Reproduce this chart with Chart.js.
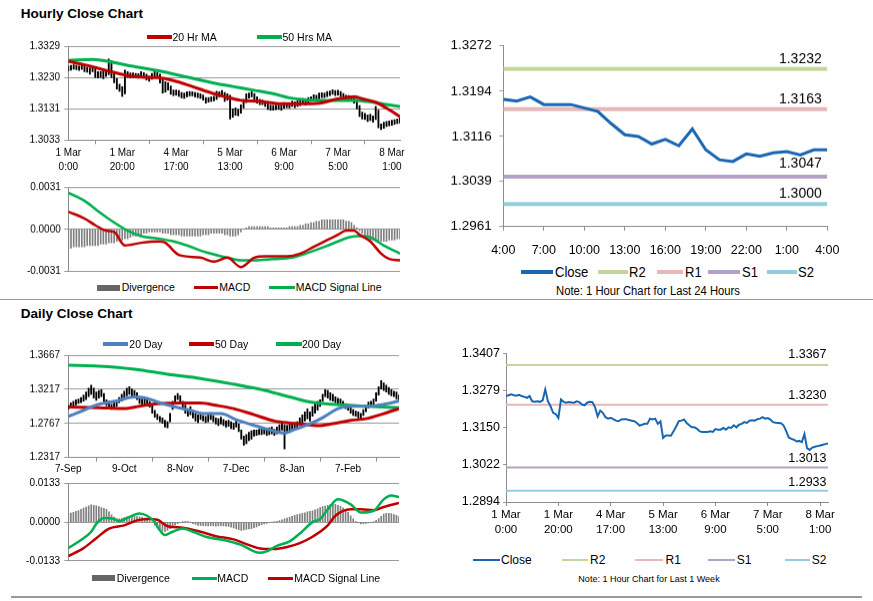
<!DOCTYPE html>
<html><head><meta charset="utf-8">
<script src="https://cdn.jsdelivr.net/npm/chart.js"></script>
<style>
html,body{margin:0;padding:0;background:#fff;}
body{width:873px;height:601px;position:relative;overflow:hidden;font-family:'Liberation Sans',Arial,sans-serif;}
.box{position:absolute;}
.t{position:absolute;white-space:nowrap;color:#000;}
.m{position:absolute;}
.hr{position:absolute;background:#9a9a9a;}
</style></head><body>
<script>
// ---------------- DATA ----------------
const hourTickIdx = [0,20,40,60,80,100,120];
const hourTickLabels = [['1 Mar','0:00'],['1 Mar','20:00'],['4 Mar','17:00'],['5 Mar','13:00'],['6 Mar','9:00'],['7 Mar','5:00'],['8 Mar','1:00']];

const weekClose = [1.3260,1.3263,1.3266,1.3263,1.3261,1.3264,1.3260,1.3257,1.3254,1.3260,
1.3242,1.3240,1.3242,1.3240,1.3245,1.3283,1.3242,1.3225,1.3202,1.3198,
1.3184,1.3248,1.3240,1.3237,1.3239,1.3238,1.3237,1.3242,1.3239,1.3231,
1.3228,1.3237,1.3240,1.3239,1.3222,1.3190,1.3210,1.3202,1.3187,1.3182,
1.3185,1.3180,1.3175,1.3173,1.3179,1.3180,1.3180,1.3177,1.3175,1.3173,
1.3167,1.3158,1.3161,1.3164,1.3164,1.3182,1.3179,1.3182,1.3164,1.3173,
1.3115,1.3124,1.3124,1.3123,1.3138,1.3155,1.3173,1.3175,1.3179,1.3167,
1.3159,1.3152,1.3152,1.3147,1.3138,1.3136,1.3136,1.3136,1.3138,1.3136,
1.3146,1.3144,1.3144,1.3150,1.3144,1.3152,1.3150,1.3159,1.3152,1.3161,
1.3164,1.3170,1.3167,1.3175,1.3176,1.3175,1.3180,1.3182,1.3187,1.3182,
1.3184,1.3179,1.3170,1.3168,1.3167,1.3166,1.3159,1.3140,1.3117,1.3112,
1.3109,1.3103,1.3105,1.3101,1.3129,1.3080,1.3074,1.3082,1.3085,1.3087,
1.3089,1.3092,1.3094,1.3096];

const hourLow = [1.3252,1.3255,1.3258,1.3256,1.3254,1.3257,1.3250,1.3248,1.3242,1.3250,
1.3232,1.3230,1.3232,1.3228,1.3235,1.3240,1.3232,1.3215,1.3195,1.3188,
1.3172,1.3180,1.3232,1.3230,1.3231,1.3230,1.3229,1.3234,1.3230,1.3224,
1.3220,1.3226,1.3232,1.3230,1.3214,1.3182,1.3185,1.3192,1.3178,1.3174,
1.3176,1.3172,1.3167,1.3165,1.3170,1.3173,1.3173,1.3170,1.3168,1.3165,
1.3160,1.3150,1.3153,1.3156,1.3157,1.3162,1.3170,1.3172,1.3156,1.3160,
1.3100,1.3105,1.3112,1.3110,1.3118,1.3135,1.3152,1.3166,1.3170,1.3160,
1.3150,1.3145,1.3145,1.3140,1.3130,1.3128,1.3128,1.3129,1.3130,1.3128,
1.3134,1.3136,1.3135,1.3140,1.3136,1.3140,1.3142,1.3147,1.3144,1.3150,
1.3156,1.3160,1.3160,1.3164,1.3168,1.3168,1.3171,1.3174,1.3178,1.3174,
1.3176,1.3171,1.3162,1.3160,1.3159,1.3158,1.3150,1.3132,1.3108,1.3100,
1.3098,1.3092,1.3095,1.3090,1.3098,1.3072,1.3066,1.3070,1.3076,1.3078,
1.3080,1.3083,1.3085,1.3087];

const hourHigh = [1.3268,1.3270,1.3272,1.3270,1.3268,1.3270,1.3267,1.3264,1.3262,1.3266,
1.3262,1.3250,1.3250,1.3250,1.3256,1.3290,1.3285,1.3245,1.3228,1.3210,
1.3202,1.3255,1.3250,1.3246,1.3246,1.3245,1.3244,1.3250,1.3247,1.3242,
1.3236,1.3245,1.3250,1.3248,1.3242,1.3225,1.3218,1.3215,1.3205,1.3192,
1.3192,1.3190,1.3184,1.3182,1.3186,1.3187,1.3186,1.3184,1.3182,1.3180,
1.3176,1.3168,1.3168,1.3170,1.3172,1.3188,1.3186,1.3190,1.3184,1.3180,
1.3175,1.3132,1.3135,1.3130,1.3145,1.3162,1.3180,1.3182,1.3186,1.3181,
1.3170,1.3162,1.3160,1.3156,1.3150,1.3144,1.3143,1.3144,1.3145,1.3144,
1.3152,1.3151,1.3150,1.3157,1.3154,1.3158,1.3158,1.3165,1.3162,1.3168,
1.3170,1.3177,1.3175,1.3182,1.3183,1.3182,1.3187,1.3189,1.3193,1.3190,
1.3191,1.3187,1.3181,1.3175,1.3174,1.3173,1.3168,1.3162,1.3142,1.3122,
1.3118,1.3113,1.3115,1.3110,1.3140,1.3128,1.3084,1.3090,1.3092,1.3094,
1.3096,1.3098,1.3100,1.3103];

const ma20Hr = [[0,1.3283],[7,1.3270],[14,1.3254],[22,1.3238],[27,1.3233],[33,1.3231],[39,1.3222],[46,1.3203],[54,1.3180],[59,1.3169],[64,1.3159],[71,1.3156],[79,1.3148],[86,1.3148],[93,1.3150],[100,1.3164],[106,1.3171],[109,1.3164],[114,1.3153],[119,1.3129],[123,1.3107]];
const ma50Hr = [[0,1.3286],[9,1.3289],[16,1.3281],[24,1.3267],[34,1.3252],[44,1.3233],[54,1.3214],[61,1.3203],[69,1.3191],[76,1.3180],[82,1.3167],[88,1.3161],[96,1.3159],[106,1.3159],[113,1.3153],[118,1.3146],[123,1.3139]];

const hourMacd = [[0,0.0013],[6,0.0008],[10,0.0003],[14,-0.0001],[17,-0.0002],[21,-0.0012],[27,-0.0010],[34,-0.0009],[36,-0.0010],[41,-0.0019],[49,-0.0021],[54,-0.0024],[59,-0.0021],[64,-0.0028],[69,-0.0021],[73,-0.0020],[81,-0.0020],[86,-0.0018],[91,-0.0013],[96,-0.0008],[100,-0.0004],[103,-0.0001],[106,-0.0001],[108,-0.0004],[112,-0.0009],[116,-0.0018],[119,-0.0022],[123,-0.0023]];
const hourSignal = [[0,0.0027],[6,0.0021],[12,0.0012],[17,0.0005],[22,-0.0001],[27,-0.0005],[34,-0.0007],[39,-0.0009],[44,-0.0012],[51,-0.0017],[59,-0.0021],[64,-0.0023],[69,-0.0023],[76,-0.0022],[83,-0.0021],[88,-0.0018],[95,-0.0013],[100,-0.0009],[104,-0.0006],[108,-0.0005],[112,-0.0006],[117,-0.0012],[123,-0.0018]];
const hourDiv = [-0.0014,-0.0014,-0.0013,-0.0013,-0.0013,-0.0013,-0.0013,-0.0012,-0.0012,-0.0012,
-0.0012,-0.0012,-0.0011,-0.0011,-0.0011,-0.0010,-0.0010,-0.0010,-0.0009,-0.0009,
-0.0008,-0.0007,-0.0007,-0.0006,-0.0005,-0.0005,-0.0004,-0.0004,-0.0003,-0.0003,
-0.0002,-0.0002,-0.0002,-0.0002,-0.0002,-0.0003,-0.0003,-0.0003,-0.0004,-0.0004,
-0.0004,-0.0004,-0.0005,-0.0005,-0.0005,-0.0005,-0.0005,-0.0005,-0.0005,-0.0005,
-0.0004,-0.0004,-0.0004,-0.0003,-0.0003,-0.0003,-0.0003,-0.0003,-0.0004,-0.0004,
-0.0005,-0.0005,-0.0005,-0.0004,-0.0002,0.0000,0.0001,0.0002,0.0002,0.0002,
0.0002,0.0002,0.0002,0.0002,0.0002,0.0001,0.0001,0.0001,0.0001,0.0001,
0.0001,0.0001,0.0002,0.0002,0.0002,0.0002,0.0003,0.0003,0.0004,0.0004,
0.0005,0.0005,0.0006,0.0006,0.0007,0.0007,0.0007,0.0007,0.0007,0.0007,
0.0007,0.0007,0.0007,0.0006,0.0006,0.0005,0.0003,0.0001,-0.0001,-0.0003,
-0.0005,-0.0006,-0.0008,-0.0008,-0.0009,-0.0009,-0.0009,-0.0009,-0.0009,-0.0008,
-0.0008,-0.0008,-0.0007,-0.0007];

const hourPriceTicks = [1.3033,1.3131,1.3230,1.3329];
const hourMacdTicks = [-0.0031,0,0.0031];

// 24 hour chart
const h24Idx = [0,3,6,9,12,15,18,21,24];
const h24Labels = ['4:00','7:00','10:00','13:00','16:00','19:00','22:00','1:00','4:00'];
const close24 = [1.3180,1.3177,1.3184,1.3171,1.3171,1.3171,1.3165,1.3159,1.3138,1.3119,1.3116,1.3103,1.3111,1.3100,1.3129,1.3093,1.3076,1.3073,1.3086,1.3082,1.3088,1.3090,1.3084,1.3093,1.3093];
const levels24 = [1.3232,1.3163,1.3047,1.3000];
const ticks24 = [1.2961,1.3039,1.3116,1.3194,1.3272];

// week chart
const levelsWeek = [1.3367,1.3230,1.3013,1.2933];
const ticksWeek = [1.2894,1.3022,1.3150,1.3279,1.3407];
const levelNames = ['R2','R1','S1','S2'];

// daily chart
const dayTickIdx = [0,22,44,66,88,110];
const dayTickLabels = ['7-Sep','9-Oct','8-Nov','7-Dec','8-Jan','7-Feb'];
const dayLow = [1.2950,1.2980,1.2990,1.3010,1.3030,1.3040,1.3060,1.3080,1.3120,1.3150,
1.3100,1.3070,1.3100,1.3120,1.3060,1.3000,1.2980,1.2950,1.2960,1.2990,
1.3040,1.3060,1.3100,1.3130,1.3150,1.3120,1.3100,1.3080,1.3030,1.3010,
1.3020,1.3000,1.2980,1.2900,1.2850,1.2820,1.2790,1.2770,1.2720,1.2710,
1.2790,1.2950,1.3050,1.3080,1.3050,1.2980,1.2900,1.2860,1.2880,1.2840,
1.2800,1.2780,1.2820,1.2800,1.2780,1.2790,1.2820,1.2790,1.2760,1.2740,
1.2760,1.2740,1.2720,1.2730,1.2700,1.2690,1.2720,1.2660,1.2560,1.2480,
1.2500,1.2540,1.2560,1.2600,1.2610,1.2620,1.2620,1.2630,1.2610,1.2620,
1.2630,1.2610,1.2630,1.2650,1.2680,1.2430,1.2650,1.2660,1.2670,1.2690,
1.2700,1.2740,1.2780,1.2800,1.2830,1.2800,1.2860,1.2900,1.2940,1.2990,
1.3060,1.3120,1.3100,1.3070,1.3060,1.3040,1.3020,1.3030,1.2980,1.2960,
1.2940,1.2900,1.2870,1.2860,1.2840,1.2830,1.2870,1.2920,1.2970,1.2980,
1.3010,1.3060,1.3140,1.3220,1.3200,1.3180,1.3150,1.3130,1.3120,1.3090,
1.3060];
const dayHigh = [1.3010,1.3040,1.3060,1.3080,1.3090,1.3110,1.3140,1.3180,1.3230,1.3270,
1.3230,1.3180,1.3200,1.3210,1.3160,1.3080,1.3060,1.3020,1.3040,1.3070,
1.3110,1.3150,1.3190,1.3230,1.3250,1.3220,1.3200,1.3170,1.3120,1.3090,
1.3100,1.3080,1.3060,1.3000,1.2940,1.2890,1.2860,1.2840,1.2810,1.2790,
1.2900,1.3060,1.3130,1.3160,1.3130,1.3060,1.3010,1.2960,1.2990,1.2940,
1.2900,1.2880,1.2900,1.2870,1.2860,1.2880,1.2910,1.2870,1.2840,1.2830,
1.2850,1.2820,1.2800,1.2810,1.2790,1.2770,1.2800,1.2760,1.2680,1.2600,
1.2620,1.2650,1.2670,1.2680,1.2680,1.2690,1.2700,1.2700,1.2690,1.2710,
1.2720,1.2690,1.2720,1.2750,1.2780,1.2750,1.2740,1.2750,1.2760,1.2780,
1.2790,1.2840,1.2880,1.2920,1.2960,1.2920,1.2990,1.3030,1.3060,1.3080,
1.3150,1.3210,1.3200,1.3170,1.3150,1.3120,1.3100,1.3090,1.3060,1.3030,
1.3010,1.2980,1.2950,1.2930,1.2920,1.2900,1.2950,1.3000,1.3050,1.3060,
1.3090,1.3170,1.3250,1.3330,1.3300,1.3270,1.3240,1.3210,1.3190,1.3180,
1.3140];
const ma20Day = [[0,1.2860],[6,1.2940],[12,1.3019],[19,1.3063],[26,1.3116],[30,1.3107],[35,1.3050],[41,1.2993],[48,1.2940],[53,1.2896],[60,1.2896],[66,1.2816],[73,1.2741],[79,1.2684],[85,1.2640],[88,1.2675],[95,1.2763],[100,1.2843],[106,1.2962],[111,1.2993],[117,1.2993],[124,1.3019],[130,1.3063]];
const ma50Day = [[0,1.2984],[12,1.2975],[22,1.2962],[28,1.2993],[35,1.3028],[44,1.3037],[52,1.3037],[58,1.3006],[65,1.2962],[73,1.2882],[81,1.2799],[87,1.2772],[93,1.2755],[98,1.2737],[104,1.2763],[111,1.2807],[117,1.2829],[124,1.2896],[130,1.2962]];
const ma200Day = [[0,1.3535],[12,1.3522],[26,1.3482],[39,1.3416],[52,1.3359],[65,1.3284],[78,1.3196],[87,1.3116],[95,1.3050],[104,1.3019],[117,1.2993],[130,1.2975]];
const dayMacd = [[0,-0.0089],[5,-0.0061],[9,-0.0033],[11,-0.0006],[14,0.0014],[18,0.0011],[20,0.0003],[23,0.0014],[28,0.0030],[31,0.0022],[34,0.0000],[36,-0.0028],[38,-0.0044],[41,-0.0033],[45,-0.0022],[49,-0.0033],[54,-0.0050],[62,-0.0063],[68,-0.0078],[73,-0.0100],[75,-0.0105],[78,-0.0100],[82,-0.0081],[87,-0.0066],[91,-0.0039],[96,0.0000],[99,0.0011],[103,0.0055],[106,0.0078],[111,0.0061],[115,0.0033],[120,0.0039],[124,0.0078],[127,0.0091],[130,0.0086]];
const daySignal = [[0,-0.0116],[6,-0.0089],[11,-0.0055],[16,-0.0022],[22,-0.0011],[27,0.0006],[31,0.0011],[35,0.0008],[39,-0.0014],[45,-0.0019],[52,-0.0033],[58,-0.0048],[65,-0.0059],[70,-0.0075],[75,-0.0089],[81,-0.0092],[86,-0.0085],[91,-0.0072],[96,-0.0050],[102,-0.0011],[105,0.0022],[111,0.0044],[115,0.0044],[120,0.0041],[124,0.0052],[130,0.0066]];
const dayDiv = [0.0028,0.0031,0.0034,0.0037,0.0040,0.0044,0.0048,0.0052,0.0056,0.0059,
0.0058,0.0056,0.0053,0.0050,0.0047,0.0044,0.0035,0.0025,0.0017,0.0012,
0.0011,0.0013,0.0016,0.0018,0.0019,0.0019,0.0020,0.0019,0.0018,0.0017,
0.0014,0.0009,0.0004,0.0000,-0.0010,-0.0020,-0.0028,-0.0031,-0.0033,-0.0028,
-0.0022,-0.0017,-0.0010,-0.0005,-0.0002,0.0001,0.0003,0.0002,0.0000,-0.0005,
-0.0008,-0.0011,-0.0012,-0.0012,-0.0013,-0.0013,-0.0012,-0.0013,-0.0014,-0.0013,
-0.0012,-0.0013,-0.0014,-0.0015,-0.0017,-0.0020,-0.0023,-0.0026,-0.0028,-0.0027,
-0.0025,-0.0023,-0.0022,-0.0019,-0.0016,-0.0012,-0.0009,-0.0006,-0.0004,-0.0002,
0.0000,0.0002,0.0003,0.0005,0.0008,0.0011,0.0014,0.0017,0.0020,0.0023,
0.0026,0.0028,0.0030,0.0032,0.0035,0.0037,0.0039,0.0042,0.0046,0.0050,
0.0053,0.0055,0.0058,0.0060,0.0061,0.0061,0.0058,0.0054,0.0049,0.0044,
0.0034,0.0022,0.0011,0.0003,-0.0003,-0.0006,-0.0005,-0.0004,-0.0003,-0.0001,
0.0002,0.0006,0.0012,0.0020,0.0028,0.0030,0.0030,0.0029,0.0026,0.0023,
0.0019];
const dayPriceTicks = [1.2317,1.2767,1.3217,1.3667];
const dayMacdTicks = [-0.0133,0,0.0133];

// ---------------- STYLE ----------------
const RED='#C00000', GREEN='#00B050', BLUE='#4F81BD', CLOSE='#1B66B1', DIVC='#7F7F7F';
const LEVEL_COLORS=['#C3D69B','#E6B9B8','#B3A2C7','#93CDDD'];
const FONT="'Liberation Sans', Arial, sans-serif";
Chart.defaults.color='#000';
Chart.defaults.font.family=FONT;

function box(left, top, width, height){
  const d=document.createElement('div'); d.className='box';
  Object.assign(d.style,{left:left+'px',top:top+'px',width:width+'px',height:height+'px'});
  const c=document.createElement('canvas'); d.appendChild(c); document.body.appendChild(d); return c;
}
function yScale(o){
  return { type:'linear', position:'left', min:o.ticks[0], max:o.ticks[o.ticks.length-1],
    afterBuildTicks:s=>{ s.ticks=o.ticks.map(v=>({value:v})); },
    afterFit:s=>{ s.width=o.width; },
    ticks:{autoSkip:false, padding:o.pad, font:{family:FONT,size:o.size}, color:'#000',
      callback:v=>Number(v).toFixed(4)},
    grid:{drawOnChartArea:!!o.grid, drawTicks:true, tickLength:o.tl, color:'#9A9A9A', lineWidth:1},
    border:{display:true, color:'#8C8C8C', width:1} };
}
function xScale(o){
  return { type:'linear', position:'bottom', min:0, max:o.n-1, offset:false, display:o.display!==false,
    afterBuildTicks:s=>{ s.ticks=(o.idx||[]).map(v=>({value:v})); },
    afterFit:s=>{ s.height=o.height||0; },
    ticks:{autoSkip:false, maxRotation:0, minRotation:0, padding:o.pad||0,
      font:{family:FONT,size:o.size||10,lineHeight:o.lh||1.2}, color:'#000',
      callback:(v,i)=>o.labels[i]},
    grid:{drawOnChartArea:false, drawTicks:true, tickLength:o.tl||4, color:'#8C8C8C'},
    border:{display:true, color:'#8C8C8C', width:1} };
}
function pts(pairs){ return pairs.map(p=>({x:p[0],y:p[1]})); }
function lineDs(data,color,w){ return {type:'line', data, borderColor:color, backgroundColor:color, borderWidth:w, pointRadius:0, cubicInterpolationMode:'monotone', fill:false, order:1}; }
function rangeBars(lo,hi){ return {type:'bar', data:lo.map((l,i)=>({x:i,y:[l,hi[i]]})), backgroundColor:'#000', barThickness:1.2, order:5}; }
function divBars(vals){ return {type:'bar', data:vals.map((v,i)=>({x:i,y:v})), backgroundColor:DIVC, barThickness:1, order:5}; }
function levelDs(levels,n,w){ return levels.map((lv,k)=>({type:'line', data:[{x:0,y:lv},{x:n-1,y:lv}], borderColor:LEVEL_COLORS[k], borderWidth:w, pointRadius:0, order:3})); }

const levelLabelPlugin = { id:'lvl',
  afterDatasetsDraw(chart, args, opts){
    if(!opts || !opts.values) return;
    const {ctx, chartArea} = chart; const ys = chart.scales.y;
    ctx.save(); ctx.font = opts.font; ctx.fillStyle='#000'; ctx.textAlign='right'; ctx.textBaseline='middle';
    opts.values.forEach((v,i)=>{ ctx.fillText(v.toFixed(4), chartArea.right-opts.dx, ys.getPixelForValue(v)-opts.dy[i]); });
    ctx.restore();
  }};

function make(canvas, datasets, scales, padding, lvl){
  return new Chart(canvas, {
    type:'line',
    data:{datasets},
    options:{ responsive:true, maintainAspectRatio:false, animation:false, events:[],
      layout:{padding},
      plugins:{legend:{display:false}, tooltip:{enabled:false}, lvl: lvl||{}},
      scales },
    plugins:[levelLabelPlugin]
  });
}

// A: hourly price
make(box(0,36,410,137.7),
  [rangeBars(hourLow,hourHigh), lineDs(pts(ma20Hr),RED,3), lineDs(pts(ma50Hr),GREEN,3)],
  { x:xScale({n:weekClose.length, idx:hourTickIdx, labels:hourTickLabels, height:34.4, pad:2.4, size:10, lh:1.4}),
    y:yScale({ticks:hourPriceTicks, width:68.3, pad:4.3, size:10, tl:4, grid:true}) },
  {top:10.7,right:10,bottom:0,left:0});

// B: hourly MACD
make(box(0,177,410,102.7),
  [divBars(hourDiv), lineDs(pts(hourMacd),RED,2.5), lineDs(pts(hourSignal),GREEN,2.5)],
  { x:xScale({n:weekClose.length, display:false, labels:[]}),
    y:yScale({ticks:hourMacdTicks, width:68.3, pad:3.5, size:10, tl:4, grid:true}) },
  {top:10.3,right:10,bottom:8,left:0});

// C: last 24 hours
make(box(430,30,422.3,227.5),
  [...levelDs(levels24,close24.length,4), Object.assign(lineDs(close24.map((v,i)=>({x:i,y:v})),CLOSE,3),{cubicInterpolationMode:'default',tension:0})],
  { x:xScale({n:close24.length, idx:h24Idx, labels:h24Labels, height:31.8, pad:12.8, size:12.5, lh:1.2}),
    y:yScale({ticks:ticks24, width:73.3, pad:7.6, size:13.5, tl:4, grid:false}) },
  {top:11.7,right:20,bottom:0,left:0},
  {values:levels24, font:"14px 'Liberation Sans', Arial", dx:5.6, dy:[10,10,13,10]});

// D: daily price
make(box(0,344,409,130.7),
  [rangeBars(dayLow,dayHigh), lineDs(pts(ma20Day),BLUE,3), lineDs(pts(ma50Day),RED,3), lineDs(pts(ma200Day),GREEN,3)],
  { x:xScale({n:dayLow.length, idx:dayTickIdx, labels:dayTickLabels, height:18, pad:1.3, size:10, lh:1.2}),
    y:yScale({ticks:dayPriceTicks, width:68.3, pad:4.3, size:10, tl:4, grid:true}) },
  {top:11,right:10,bottom:0,left:0});

// E: daily MACD
make(box(0,473,409,98.3),
  [divBars(dayDiv), lineDs(pts(dayMacd),GREEN,2.5), lineDs(pts(daySignal),RED,2.5)],
  { x:xScale({n:dayLow.length, display:false, labels:[]}),
    y:yScale({ticks:dayMacdTicks, width:68.3, pad:4.3, size:10, tl:4, grid:true}) },
  {top:10.3,right:10,bottom:8,left:0});

// F: last week hourly
make(box(430,342.7,412,194),
  [...levelDs(levelsWeek,weekClose.length,2), Object.assign(lineDs(weekClose.map((v,i)=>({x:i,y:v})),CLOSE,2),{cubicInterpolationMode:'default',tension:0})],
  { x:xScale({n:weekClose.length, idx:hourTickIdx, labels:hourTickLabels, height:35, pad:2.1, size:11.5, lh:1.25}),
    y:yScale({ticks:ticksWeek, width:76, pad:3, size:12.5, tl:3, grid:false}) },
  {top:10,right:14,bottom:0,left:0},
  {values:levelsWeek, font:"12.5px 'Liberation Sans', Arial", dx:1.5, dy:[10.5,9.5,9.5,8]});

// ---------------- TEXT / LEGENDS ----------------
function text(str, left, cy, fs, opts){
  opts = opts||{};
  const t=document.createElement('div'); t.className='t'; t.textContent=str;
  Object.assign(t.style,{left:left+'px', top:(cy-fs/2)+'px', fontSize:fs+'px', lineHeight:fs+'px', fontFamily:FONT, fontWeight:opts.bold?'bold':'normal'});
  const sx = opts.sx||1;
  if(opts.center){ t.style.transform='translateX(-50%) scaleX('+sx+')'; t.style.transformOrigin='center'; }
  else if(sx!==1){ t.style.transform='scaleX('+sx+')'; t.style.transformOrigin='left center'; }
  document.body.appendChild(t);
}
function legend(items, cy, fs, sx){
  items.forEach(it=>{
    const m=document.createElement('div'); m.className='m';
    Object.assign(m.style,{left:it.mx+'px', top:(cy-it.mh/2)+'px', width:it.mw+'px', height:it.mh+'px', background:it.color});
    document.body.appendChild(m);
    text(it.text, it.tx, cy, fs, {sx:sx||1});
  });
}
function hline(left, top, width, h){ const d=document.createElement('div'); d.className='hr'; Object.assign(d.style,{left:left+'px',top:top+'px',width:width+'px',height:h+'px'}); document.body.appendChild(d); }

text('Hourly Close Chart', 20.7, 13.3, 13.5, {bold:true});
text('Daily Close Chart', 20.7, 313.3, 13.5, {bold:true});
hline(0, 298.8, 873, 1.5);
hline(11, 596, 851, 1.5);

legend([{mx:146.7,mw:25,mh:4,color:RED,tx:172.5,text:'20 Hr MA'},
        {mx:256.7,mw:25,mh:4,color:GREEN,tx:282.5,text:'50 Hrs MA'}], 37.3, 10.5);
legend([{mx:96.7,mw:23.3,mh:6,color:'#666666',tx:121.7,text:'Divergence'},
        {mx:194,mw:24.3,mh:3,color:RED,tx:219.3,text:'MACD'},
        {mx:269.3,mw:25.7,mh:3,color:GREEN,tx:295.7,text:'MACD Signal Line'}], 287.7, 10.5);
legend([{mx:103.3,mw:25,mh:4,color:BLUE,tx:129.3,text:'20 Day'},
        {mx:189,mw:25,mh:4,color:RED,tx:215,text:'50 Day'},
        {mx:276,mw:25.7,mh:4,color:GREEN,tx:302,text:'200 Day'}], 344.3, 10.5);
legend([{mx:91.7,mw:23.3,mh:6,color:'#666666',tx:116.7,text:'Divergence'},
        {mx:191.7,mw:25,mh:3,color:GREEN,tx:217.3,text:'MACD'},
        {mx:268.3,mw:25,mh:3,color:RED,tx:294.3,text:'MACD Signal Line'}], 578.3, 10.5);

legend([{mx:520.7,mw:32.6,mh:4,color:CLOSE,tx:555,text:'Close'},
        {mx:598.3,mw:30,mh:4,color:LEVEL_COLORS[0],tx:629.3,text:levelNames[0]},
        {mx:656.7,mw:26.6,mh:4,color:LEVEL_COLORS[1],tx:685,text:levelNames[1]},
        {mx:708.3,mw:31.7,mh:4,color:LEVEL_COLORS[2],tx:741.7,text:levelNames[2]},
        {mx:766.7,mw:30,mh:4,color:LEVEL_COLORS[3],tx:798.3,text:levelNames[3]}], 271.7, 15, 0.87);
text('Note: 1 Hour Chart for Last 24 Hours', 648.3, 291.7, 12.5, {center:true, sx:0.9});

legend([{mx:473.3,mw:26.7,mh:2,color:CLOSE,tx:501,text:'Close'},
        {mx:561.7,mw:26.6,mh:2,color:LEVEL_COLORS[0],tx:590,text:levelNames[0]},
        {mx:635,mw:28.3,mh:2,color:LEVEL_COLORS[1],tx:665.5,text:levelNames[1]},
        {mx:708.3,mw:26.7,mh:2,color:LEVEL_COLORS[2],tx:736.7,text:levelNames[2]},
        {mx:785,mw:25,mh:2,color:LEVEL_COLORS[3],tx:811.7,text:levelNames[3]}], 560, 12);
text('Note: 1 Hour Chart for Last 1 Week', 649, 578.3, 9.5, {center:true, sx:0.95});
</script>
</body></html>
